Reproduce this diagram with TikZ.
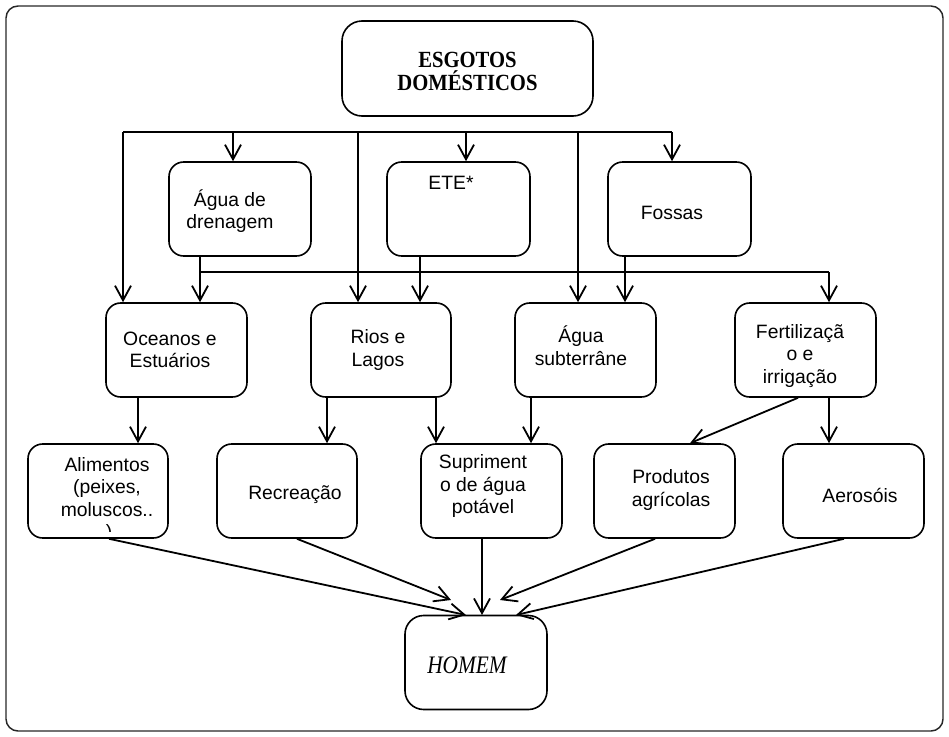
\documentclass[tikz,border=0pt]{standalone}
\usepackage{fontspec}
\usepackage{graphicx}
\setmainfont{Liberation Sans}
\newfontfamily\serifb{Liberation Serif}
\usetikzlibrary{arrows.meta}
\begin{document}
\begin{tikzpicture}[x=0.75pt,y=-0.75pt,
  box/.style={draw, line width=1.2pt, rounded corners=11pt, inner sep=0pt,
    minimum width=141*0.75pt, minimum height=94*0.75pt},
  txt/.style={font=\fontsize{14.5}{17}\selectfont, align=center, inner sep=0pt},
  arr/.style={line width=1.35pt, -{Straight Barb[length=11pt,width=12pt,line width=1.35pt]}},
  bus/.style={line width=2.1pt}]
\useasboundingbox (0,0) rectangle (949,736);
\draw[line width=1.1pt, rounded corners=9pt, draw=black!85] (6,6) rectangle (943,731);

% boxes
\node[box, minimum width=251*0.75pt, minimum height=95*0.75pt, rounded corners=15pt] (esg) at (467.5,68.5) {};
\node[font=\serifb\bfseries\fontsize{15.5}{17.5}\selectfont, align=center, inner sep=0pt] (esgt) at (467.5,71.5) {\scalebox{1}[1.12]{ESGOTOS}\\\scalebox{1}[1.12]{DOMÉSTICOS}};

\node[box, minimum width=142*0.75pt] (agua) at (240,209) {};
\node[txt] (aguat) at (230,211) {Água de\\drenagem};
\node[box, minimum width=143*0.75pt] (ete) at (458.5,209) {};
\node[txt] (etet) at (451,183) {ETE*};
\node[box, minimum width=143*0.75pt] (fos) at (679.5,209) {};
\node[txt] (fost) at (672,213) {Fossas};

\node[box] (oce) at (176.5,350) {};
\node[txt] (ocet) at (170,350) {Oceanos e\\Estuários};
\node[box, minimum width=140*0.75pt] (rios) at (381,350) {};
\node[txt] (riost) at (378,350) {Rios e\\Lagos};
\node[box] (sub) at (585.5,350) {};
\node[txt] (subt) at (581,346) {Água\\subterrâne};
\node[box] (fert) at (805.5,350) {};
\node[txt] (fertt) at (800,356) {Fertilizaçã\\o e\\irrigação};

\node[box, minimum width=140*0.75pt] (alim) at (98,491) {};
\node[txt, font=\fontsize{14.5}{16.8}\selectfont] (alimt) at (107,487) {Alimentos\\(peixes,\\moluscos..};
\begin{scope}
  \clip (60,517) rectangle (150,531);
  \node[txt] (alimp) at (109,533) {)};
\end{scope}
\node[box, minimum width=140*0.75pt] (recr) at (287,491) {};
\node[txt] (recrt) at (295,495) {Recreação};
\node[box] (supr) at (491.5,491) {};
\node[txt, font=\fontsize{14.5}{16.8}\selectfont] (suprt) at (483,486) {Supriment\\o de água\\potável};
\node[box] (prod) at (664.5,491) {};
\node[txt] (prodt) at (671,490) {Produtos\\agrícolas};
\node[box] (aero) at (853.5,491) {};
\node[txt] (aerot) at (860,495) {Aerosóis};

\node[box, minimum width=142*0.75pt, minimum height=94*0.75pt, rounded corners=14pt] (hom) at (476,662.5) {};
\node[inner sep=0pt, font=\serifb\itshape\fontsize{16}{18}\selectfont] (homt) at (467,665) {\scalebox{1}[1.18]{HOMEM}};

% helper coordinates
\coordinate (b1a) at (123,132);
\coordinate (b1b) at (233,132);
\coordinate (b1c) at (358,132);
\coordinate (b1d) at (466,132);
\coordinate (b1e) at (578,132);
\coordinate (b1f) at (672,132);
\coordinate (b2a) at (200,272);
\coordinate (b2z) at (829,272);
\coordinate (c420) at (420,0);
\coordinate (c625) at (625,0);
\coordinate (c138) at (138,0);
\coordinate (c327) at (327,0);
\coordinate (c436) at (436,0);
\coordinate (c531) at (531,0);
\coordinate (c798) at (798,0);
\coordinate (c690) at (690,0);
\coordinate (c109) at (109,0);
\coordinate (c297) at (297,0);
\coordinate (c482) at (482,0);
\coordinate (c655) at (655,0);
\coordinate (c844) at (844,0);
\coordinate (h1) at (466,615);
\coordinate (h2) at (451,600);
\coordinate (h3) at (482,615);
\coordinate (h4) at (500,600);
\coordinate (h5) at (516,615);

% first level
\draw[bus] (b1a) -- (b1f);
\draw[arr] (b1a) -- (b1a |- oce.north);
\draw[arr] (b1b) -- (b1b |- agua.north);
\draw[arr] (b1c) -- (b1c |- rios.north);
\draw[arr] (b1d) -- (b1d |- ete.north);
\draw[arr] (b1e) -- (b1e |- sub.north);
\draw[arr] (b1f) -- (b1f |- fos.north);

% second level
\draw[arr] (b2a |- agua.south) -- (b2a |- oce.north);
\draw[bus] (b2a) -- (b2z);
\draw[arr] (b2z) -- (b2z |- fert.north);
\draw[arr] (c420 |- ete.south) -- (c420 |- rios.north);
\draw[arr] (c625 |- fos.south) -- (c625 |- sub.north);

% third level
\draw[arr] (c138 |- oce.south) -- (c138 |- alim.north);
\draw[arr] (c327 |- rios.south) -- (c327 |- recr.north);
\draw[arr] (c436 |- rios.south) -- (c436 |- supr.north);
\draw[arr] (c531 |- sub.south) -- (c531 |- supr.north);
\draw[arr] (c798 |- fert.south) -- (c690 |- prod.north);
\draw[arr] (b2z |- fert.south) -- (b2z |- aero.north);

% to HOMEM
\draw[arr] (c109 |- alim.south) -- (h1);
\draw[arr] (c297 |- recr.south) -- (h2);
\draw[arr] (c482 |- supr.south) -- (h3);
\draw[arr] (c655 |- prod.south) -- (h4);
\draw[arr] (c844 |- aero.south) -- (h5);
\end{tikzpicture}
\end{document}
